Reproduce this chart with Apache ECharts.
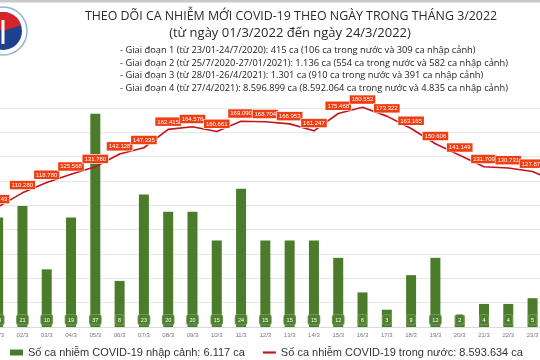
<!DOCTYPE html>
<html><head><meta charset="utf-8">
<script src="https://cdn.jsdelivr.net/npm/echarts@6/dist/echarts.min.js"></script>
<style>html,body{margin:0;padding:0;background:#fff;overflow:hidden;width:540px;height:360px;position:relative}#c{position:absolute;left:-14px;top:0;width:583px;height:360px}</style>
</head><body><div id="c"></div>
<script>
const categories = ['01/3','02/3','03/3','04/3','05/3','06/3','07/3','08/3','09/3','10/3','11/3','12/3','13/3','14/3','15/3','16/3','17/3','18/3','19/3','20/3','21/3','22/3','23/3','24/3'];
const importedCases = [19,21,10,19,37,8,23,20,20,15,24,15,15,15,12,6,3,9,12,2,4,4,5,4];
const domesticCases = [98743,110280,118780,125568,131780,142128,147335,162415,164576,160661,169090,168704,166953,161247,175468,180552,173322,163165,150606,141149,131709,130731,127875,118970];
const titleMain = 'THEO DÕI CA NHIỄM MỚI COVID-19 THEO NGÀY TRONG THÁNG 3/2022';
const titleSub = '(từ ngày 01/3/2022 đến ngày 24/3/2022)';
const noteLines = [
  '- Giai đoạn 1 (từ 23/01-24/7/2020): 415 ca (106 ca trong nước và 309 ca nhập cảnh)',
  '- Giai đoạn 2 (từ 25/7/2020-27/01/2021): 1.136 ca (554 ca trong nước và 582 ca nhập cảnh)',
  '- Giai đoạn 3 (từ 28/01-26/4/2021): 1.301 ca (910 ca trong nước và 391 ca nhập cảnh)',
  '- Giai đoạn 4 (từ 27/4/2021): 8.596.899 ca (8.592.064 ca trong nước và 4.835 ca nhập cảnh)'
];
const seriesNames = ['Số ca nhiễm COVID-19 nhập cảnh: 6.117 ca','Số ca nhiễm COVID-19 trong nước: 8.593.634 ca'];

function fmt(v){ return String(v).replace(/\B(?=(\d{3})+(?!\d))/g,'.'); }
const OX = 14; // horizontal offset of the canvas relative to the page

const chart = echarts.init(document.getElementById('c'), null, {renderer:'canvas'});
const graphics = [
  {type:'rect', shape:{x:0,y:0,width:600,height:2.5}, style:{fill:'#c9c9c9'}},
  {type:'circle', shape:{cx:3+OX,cy:31,r:24}, style:{fill:'#fff', stroke:'#8fb3d9', lineWidth:1.5}},
  {type:'circle', shape:{cx:3+OX,cy:31,r:19}, style:{fill:'#1f3f8f'}},
  {type:'sector', shape:{cx:3+OX,cy:31,r:19,r0:0,startAngle:Math.PI*1.1,endAngle:Math.PI*1.9}, style:{fill:'#d8232a'}},
  {type:'rect', shape:{x:1.5+OX,y:20,width:3,height:24}, style:{fill:'#fff'}},
  {type:'text', style:{x:291+OX, y:10, text:titleMain, font:'normal 12.4px "Open Sans"', fill:'#2a2a2a', textAlign:'center'}},
  {type:'text', style:{x:290+OX, y:27, text:titleSub, font:'normal 13px "Open Sans"', fill:'#2a2a2a', textAlign:'center'}}
];
noteLines.forEach((t,i)=>{
  graphics.push({type:'text', style:{x:120+OX, y:46+i*12.6, text:t, font:'normal 9.3px "Open Sans"', fill:'#222', textAlign:'left'}});
});

chart.setOption({
  animation:false,
  backgroundColor:'#fff',
  textStyle:{fontFamily:'Liberation Sans'},
  grid:{left:0, right:0, top:108, bottom:33, containLabel:false},
  legend:{
    bottom:2, left:10+OX, itemGap:18, padding:0,
    textStyle:{fontSize:11, color:'#333', fontFamily:'Liberation Sans'},
    data:[
      {name:seriesNames[0], icon:'rect', itemStyle:{color:'#4b7c2c'}},
      {name:seriesNames[1], icon:'path://M0,0 L12,0 L12,2 L0,2 Z', itemStyle:{color:'#c3141c'}}
    ],
    itemWidth:13, itemHeight:6
  },
  xAxis:{
    type:'category', data:categories,
    axisLine:{lineStyle:{color:'#d9d9d9'}},
    axisTick:{show:false},
    axisLabel:{fontSize:6, color:'#777', margin:5, interval:0}
  },
  yAxis:[
    {type:'value', min:0, max:180000, interval:20000, show:true,
     axisLine:{show:false}, axisTick:{show:false}, axisLabel:{show:false},
     splitLine:{lineStyle:{color:'#e6e6e6', width:1}}},
    {type:'value', min:0, max:38, show:false, splitLine:{show:false}}
  ],
  series:[
    {name:seriesNames[0], type:'bar', yAxisIndex:1, data:importedCases, barWidth:10,
     itemStyle:{color:'#4b7c2c'},
     label:{show:true, position:'insideBottom', distance:2.5, fontSize:5.5, color:'#fff',
       backgroundColor:'#4f8030', borderColor:'#7aa25c', borderWidth:0.8, borderRadius:2, padding:[2,2.5,1.5,2.5]}
    },
    {name:seriesNames[1], type:'line', yAxisIndex:0, data:domesticCases, clip:false,
     symbol:'circle', symbolSize:1, showSymbol:true,
     lineStyle:{color:'#c3141c', width:1.6}, itemStyle:{color:'#c3141c'},
     label:{show:true, position:'top', distance:3, fontSize:6, color:'#fff',
       backgroundColor:'#ee3f14', borderColor:'#fff', borderWidth:0.6, padding:[1.5,2,1,2],
       formatter:p=>fmt(p.value)}
    }
  ],
  graphic:graphics
});
</script></body></html>
